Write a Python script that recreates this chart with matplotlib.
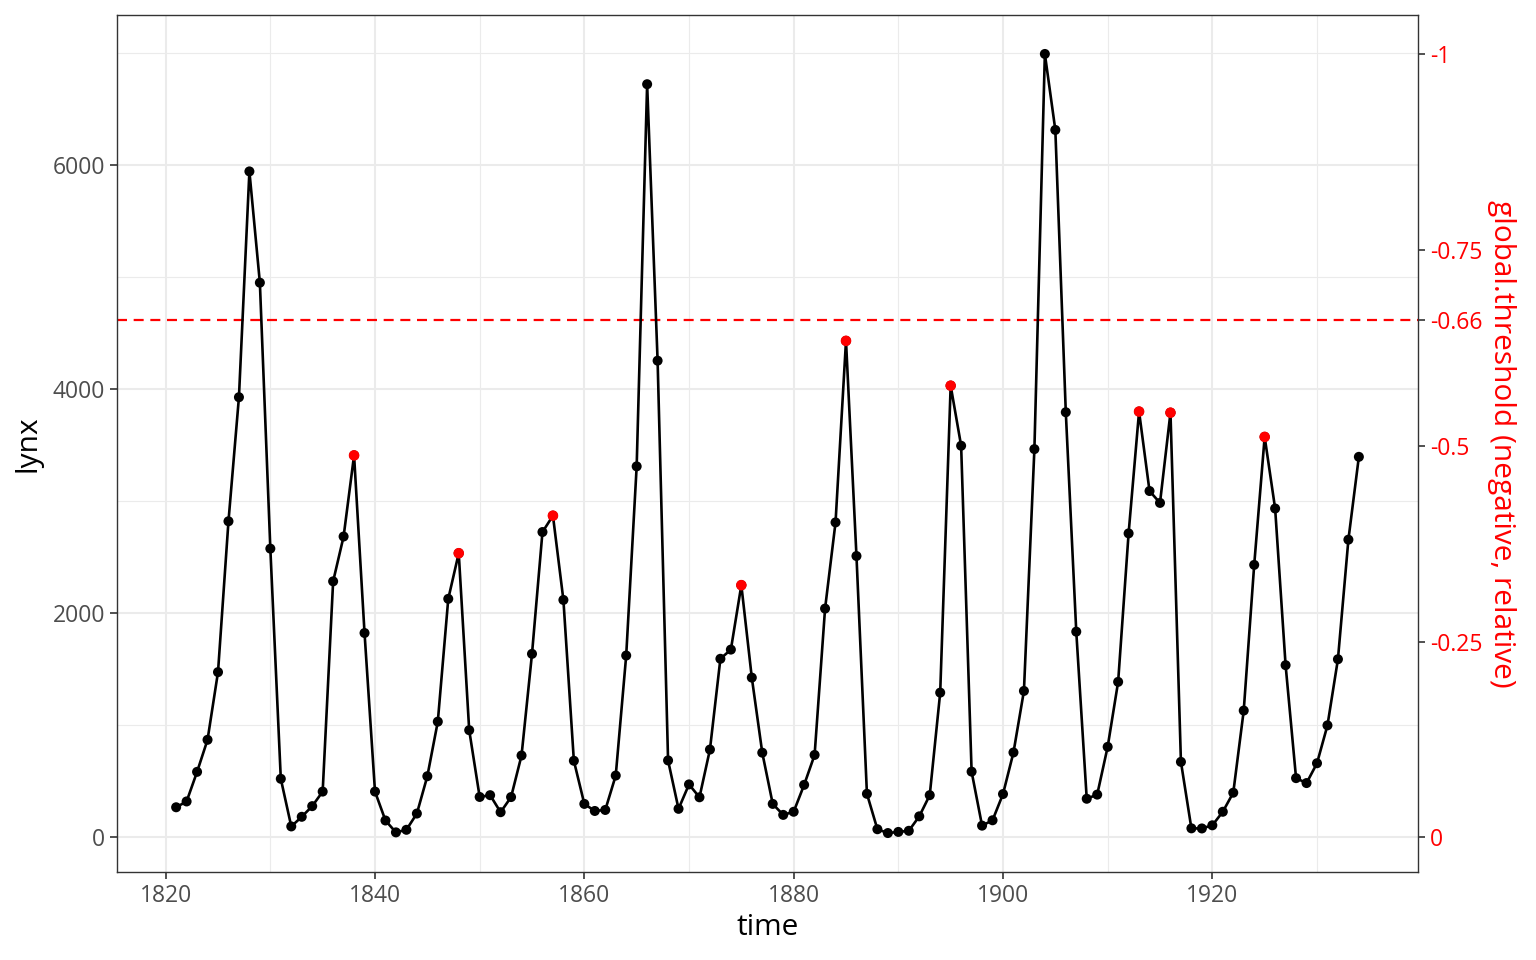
import numpy as np
import matplotlib
matplotlib.use("Agg")
import matplotlib.pyplot as plt

plt.rcParams['font.family'] = ['Open Sans', 'DejaVu Sans']

# annual lynx trappings, 1821-1934
years = np.arange(1821, 1935)
lynx = [269, 321, 585, 871, 1475, 2821, 3928, 5943, 4950, 2577, 523, 98, 184, 279, 409,
        2285, 2685, 3409, 1824, 409, 151, 45, 68, 213, 546, 1033, 2129, 2536, 957, 361,
        377, 225, 360, 731, 1638, 2725, 2871, 2119, 684, 299, 236, 245, 552, 1623, 3311,
        6721, 4254, 687, 255, 473, 358, 784, 1594, 1676, 2251, 1426, 756, 299, 201, 229,
        469, 736, 2042, 2811, 4431, 2511, 389, 73, 39, 49, 59, 188, 377, 1292, 4031,
        3495, 587, 105, 153, 387, 758, 1307, 3465, 6991, 6313, 3794, 1836, 345, 382, 808,
        1388, 2713, 3800, 3091, 2985, 3790, 674, 81, 80, 108, 229, 399, 1132, 2432, 3574,
        2935, 1537, 529, 485, 662, 1000, 1590, 2657, 3396]

# peaks that stay under the threshold
red_years = [1838, 1848, 1857, 1875, 1885, 1895, 1913, 1916, 1925]
threshold = -0.66
sec_breaks = [-1, -0.75, -0.66, -0.5, -0.25, 0]
sec_labels = ['-1', '-0.75', '-0.66', '-0.5', '-0.25', '0']

lynx = np.array(lynx)
ymax = lynx.max()
red_vals = [lynx[y - 1821] for y in red_years]

fig = plt.figure(figsize=(15.36, 9.6), dpi=100)
ax = fig.add_axes([117/1536, 88/960, (1418-117)/1536, (872-15)/960])

grid_col = '#EBEBEB'
for v in np.arange(1830, 1940, 20):
    ax.axvline(v, color=grid_col, lw=0.8, zorder=0)
for v in np.arange(1000, 8000, 2000):
    ax.axhline(v, color=grid_col, lw=0.8, zorder=0)
ax.grid(True, color=grid_col, lw=1.5, zorder=0)
ax.set_axisbelow(True)

ax.plot(years, lynx, color='black', lw=1.9, zorder=3)
ax.scatter(years, lynx, color='black', s=52, zorder=4, edgecolors='none')
ax.scatter(red_years, red_vals, color='red', s=58, zorder=5, edgecolors='none')
ax.axhline(-threshold * ymax, color='red', lw=1.6, ls=(0, (4.5, 3)), zorder=2)

xr = years.max() - years.min()
ax.set_xlim(years.min() - 0.05 * xr, years.max() + 0.05 * xr)
yr = ymax - lynx.min()
ylim = (lynx.min() - 0.05 * yr, ymax + 0.05 * yr)
ax.set_ylim(ylim)
ax.set_xticks(np.arange(1820, 1940, 20))
ax.set_yticks(np.arange(0, 8000, 2000))

for s in ax.spines.values():
    s.set_color('#333333')
    s.set_linewidth(1.0)
ax.tick_params(colors='#333333', labelcolor='#4D4D4D', labelsize=16.5, length=5, width=1.2)
ax.set_xlabel('time', fontsize=21.5, labelpad=4)
ax.set_ylabel('lynx', fontsize=21.5, labelpad=7)

ax2 = ax.twinx()
ax2.set_ylim(ylim)
ax2.set_yticks([-b * ymax for b in sec_breaks])
ax2.set_yticklabels(sec_labels)
ax2.tick_params(colors='#333333', labelcolor='red', labelsize=16.5, length=5, width=1.2)
for s in ax2.spines.values():
    s.set_visible(False)
ax2.set_ylabel('global.threshold (negative, relative)', color='red', fontsize=21.5,
               rotation=270, labelpad=24)

fig.savefig('out.png', dpi=100)
